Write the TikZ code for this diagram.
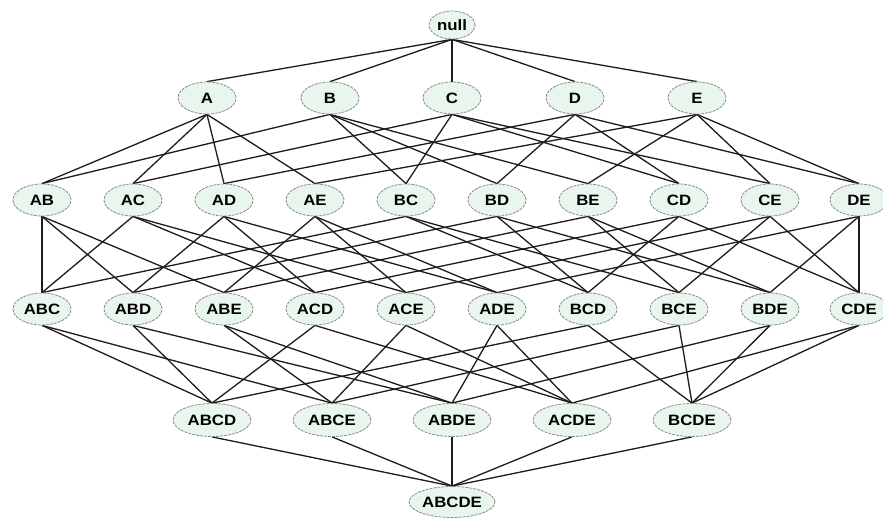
\documentclass[tikz,border=0pt]{standalone}
\usepackage{fontspec}
\usetikzlibrary{shapes.geometric,backgrounds}
\newfontfamily\nodefont{Liberation Sans}[FakeStretch=1.12]
\definecolor{nodefill}{HTML}{E9F6EE}
\definecolor{nodeline}{HTML}{8C8C8C}
\definecolor{edgecol}{HTML}{1C1C1C}
\tikzset{
  set/.style={ellipse, draw=nodeline, line width=0.8pt, dash pattern=on 3pt off 1pt,
    fill=nodefill, inner sep=0pt, minimum width=58pt, minimum height=32pt,
    font=\nodefont\bfseries\fontsize{15}{16}\selectfont, text=black},
  wide/.style={set, minimum width=78pt, minimum height=33pt},
  wider/.style={set, minimum width=86pt, minimum height=31pt},
  small/.style={set, minimum width=46pt, minimum height=28pt},
  link/.style={draw=edgecol, line width=1.3pt}
}
\begin{document}
\begin{tikzpicture}[x=1pt,y=-1pt]
\useasboundingbox (0,0) rectangle (883,519);
\node[small] (null) at (452,25) {null};
\node[set] (A) at (207,98) {A};
\node[set] (B) at (330,98) {B};
\node[set] (C) at (452,98) {C};
\node[set] (D) at (575,98) {D};
\node[set] (E) at (697,98) {E};
\node[set] (AB) at (42,200) {AB};
\node[set] (AC) at (133,200) {AC};
\node[set] (AD) at (224,200) {AD};
\node[set] (AE) at (315,200) {AE};
\node[set] (BC) at (406,200) {BC};
\node[set] (BD) at (497,200) {BD};
\node[set] (BE) at (588,200) {BE};
\node[set] (CD) at (679,200) {CD};
\node[set] (CE) at (770,200) {CE};
\node[set] (DE) at (859,200) {DE};
\node[set] (ABC) at (42,309) {ABC};
\node[set] (ABD) at (133,309) {ABD};
\node[set] (ABE) at (224,309) {ABE};
\node[set] (ACD) at (315,309) {ACD};
\node[set] (ACE) at (406,309) {ACE};
\node[set] (ADE) at (497,309) {ADE};
\node[set] (BCD) at (588,309) {BCD};
\node[set] (BCE) at (679,309) {BCE};
\node[set] (BDE) at (770,309) {BDE};
\node[set] (CDE) at (859,309) {CDE};
\node[wide] (ABCD) at (212,420) {ABCD};
\node[wide] (ABCE) at (332,420) {ABCE};
\node[wide] (ABDE) at (452,420) {ABDE};
\node[wide] (ACDE) at (572,420) {ACDE};
\node[wide] (BCDE) at (692,420) {BCDE};
\node[wider] (ABCDE) at (452,502) {ABCDE};
\begin{pgfonlayer}{background}
\fill[white] (0,0) rectangle (883,519);
\foreach \s in {A,B,C,D,E} \draw[link] (null.south) -- (\s.north);
\foreach \u/\l in {A/AB,A/AC,A/AD,A/AE,B/AB,B/BC,B/BD,B/BE,C/AC,C/BC,C/CD,C/CE,D/AD,D/BD,D/CD,D/DE,E/AE,E/BE,E/CE,E/DE}
  \draw[link] (\u.south) -- (\l.north);
\foreach \u/\l in {AB/ABC,AB/ABD,AB/ABE,AC/ABC,AC/ACD,AC/ACE,AD/ABD,AD/ACD,AD/ADE,AE/ABE,AE/ACE,AE/ADE,BC/ABC,BC/BCD,BC/BCE,BD/ABD,BD/BCD,BD/BDE,BE/ABE,BE/BCE,BE/BDE,CD/ACD,CD/BCD,CD/CDE,CE/ACE,CE/BCE,CE/CDE,DE/ADE,DE/BDE,DE/CDE}
  \draw[link] (\u.south) -- (\l.north);
\foreach \u/\l in {ABC/ABCD,ABC/ABCE,ABD/ABCD,ABD/ABDE,ABE/ABCE,ABE/ABDE,ACD/ABCD,ACD/ACDE,ACE/ABCE,ACE/ACDE,ADE/ABDE,ADE/ACDE,BCD/ABCD,BCD/BCDE,BCE/ABCE,BCE/BCDE,BDE/ABDE,BDE/BCDE,CDE/ACDE,CDE/BCDE}
  \draw[link] (\u.south) -- (\l.north);
\foreach \s in {ABCD,ABCE,ABDE,ACDE,BCDE} \draw[link] (\s.south) -- (ABCDE.north);
\end{pgfonlayer}
\end{tikzpicture}
\end{document}
